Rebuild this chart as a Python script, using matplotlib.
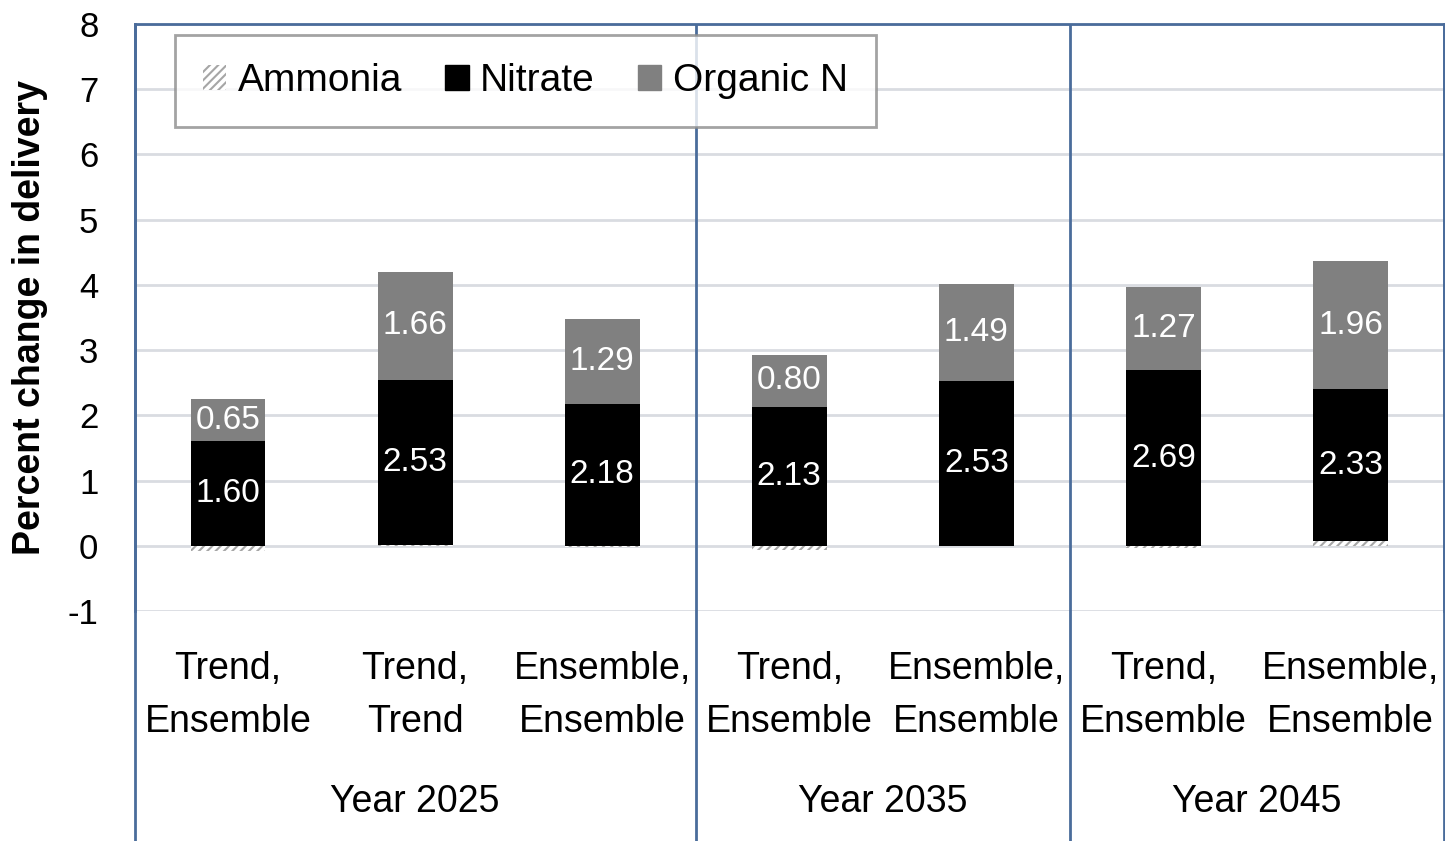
import numpy as np
import matplotlib.pyplot as plt
from matplotlib.patches import Patch

plt.rcParams['font.family'] = ['Liberation Sans', 'DejaVu Sans']
plt.rcParams['axes.unicode_minus'] = False

categories = ["Trend,\nEnsemble", "Trend,\nTrend", "Ensemble,\nEnsemble",
              "Trend,\nEnsemble", "Ensemble,\nEnsemble",
              "Trend,\nEnsemble", "Ensemble,\nEnsemble"]
groups = ["Year 2025", "Year 2035", "Year 2045"]
group_sizes = [3, 2, 2]

ammonia = np.array([-0.08, 0.01, -0.02, -0.06, 0.0, -0.03, 0.07])
nitrate = np.array([1.60, 2.53, 2.18, 2.13, 2.53, 2.69, 2.33])
organic = np.array([0.65, 1.66, 1.29, 0.80, 1.49, 1.27, 1.96])

frame_col = "#4a6c9b"
grid_col = "#d9dce1"
hatch_col = "#a6a6a6"
nitrate_col = "#000000"
organic_col = "#808080"

fig = plt.figure(figsize=(14.45, 8.41), dpi=100)
ax = fig.add_axes([134.5 / 1445, 1 - 611 / 841, 1309.5 / 1445, 587 / 841])

x = np.arange(len(categories)) + 0.5
w = 0.4

plt.rcParams['hatch.linewidth'] = 1.5
ax.bar(x, ammonia, w, facecolor="white", edgecolor=hatch_col, hatch="////",
       linewidth=0, label="Ammonia", zorder=3)
nit_bottom = np.maximum(ammonia, 0)
b_nit = ax.bar(x, nitrate, w, bottom=nit_bottom, color=nitrate_col,
               label="Nitrate", zorder=3)
b_org = ax.bar(x, organic, w, bottom=nit_bottom + nitrate, color=organic_col,
               label="Organic N", zorder=3)
ax.bar_label(b_nit, fmt="%.2f", label_type="center", color="white", fontsize=24)
ax.bar_label(b_org, fmt="%.2f", label_type="center", color="white", fontsize=24)

ax.set_xlim(0, len(categories))
ax.set_ylim(-1, 8)
ax.set_yticks(range(-1, 9))
ax.yaxis.grid(True, color=grid_col, linewidth=2)
ax.set_axisbelow(True)
ax.tick_params(axis="y", length=0, pad=26, labelsize=25)
ax.set_xticks(x)
ax.set_xticklabels(categories, fontsize=27, linespacing=1.6)
ax.tick_params(axis="x", length=0, pad=29)

for s in ["left", "top", "right"]:
    ax.spines[s].set_color(frame_col)
    ax.spines[s].set_linewidth(2)
ax.spines["bottom"].set_visible(False)

# group separators running down through the category labels
bounds = np.concatenate([[0], np.cumsum(group_sizes)])
ax.vlines(bounds, -4.6, 8, colors=frame_col, linewidth=2, clip_on=False, zorder=5)
for i, g in enumerate(groups):
    ax.text((bounds[i] + bounds[i + 1]) / 2, -3.93, g, ha="center", va="center",
            fontsize=27)

ax.set_ylabel("Percent change in delivery", fontsize=27, fontweight="bold")
ax.yaxis.set_label_coords(-0.066, 0.5)

handles = [Patch(facecolor="white", edgecolor=hatch_col, hatch="////", linewidth=0),
           Patch(color=nitrate_col), Patch(color=organic_col)]
leg = ax.legend(handles, ["Ammonia", "Nitrate", "Organic N"], ncol=3,
                loc="upper left", bbox_to_anchor=(0.031, 0.981), borderaxespad=0,
                fontsize=28, frameon=True, fancybox=False, edgecolor="#8c8c8c",
                handlelength=0.6, handleheight=0.6, handletextpad=0.3,
                columnspacing=1.1, borderpad=0.72)
leg.get_frame().set_linewidth(2)
leg.set_zorder(6)

fig.savefig("out.png", dpi=100)
